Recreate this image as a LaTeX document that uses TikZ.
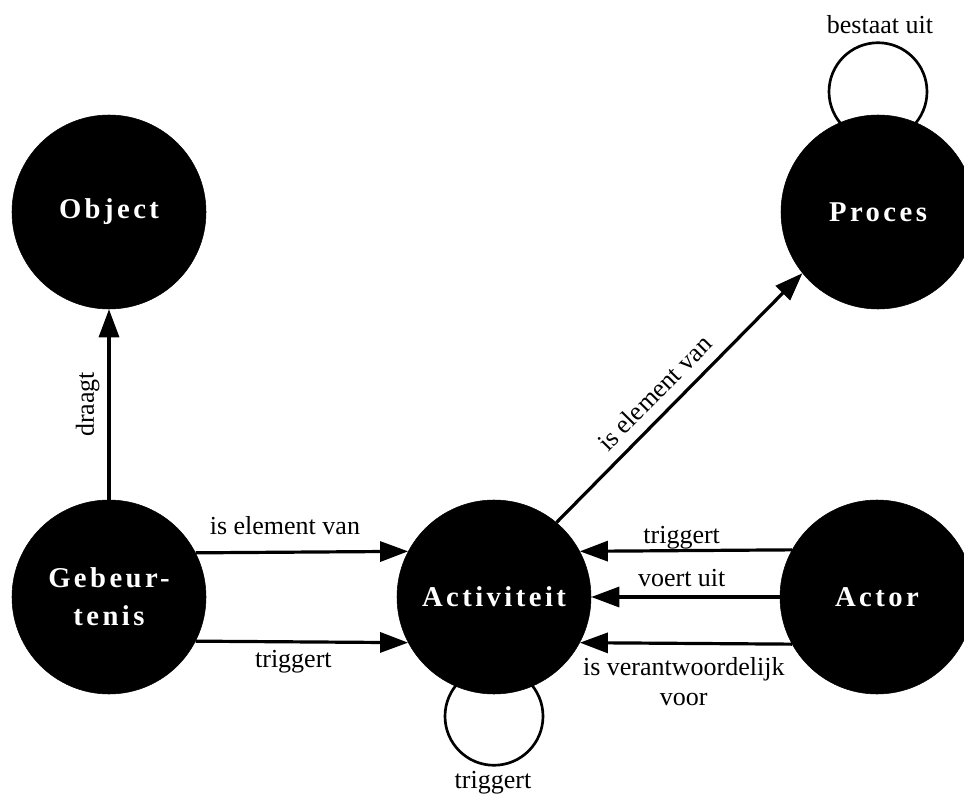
\documentclass[tikz,border=0pt]{standalone}
\usepackage{fontspec}
\setmainfont{Liberation Serif}
\newfontfamily\conceptfont[LetterSpace=12]{Liberation Serif}
\usetikzlibrary{arrows.meta,backgrounds}

\tikzset{
  concept/.style={circle, fill=black, draw=black, minimum size=194*0.75pt, inner sep=0pt,
    text=white, align=center, font=\conceptfont\bfseries\fontsize{21.5}{28.5}\selectfont},
  rel/.style={line width=2.4pt, -{Triangle[length=21pt,width=15pt]}, shorten >=0pt},
  selfloop/.style={line width=2pt},
  lbl/.style={font=\fontsize{19.5}{22.5}\selectfont, align=center, inner sep=0pt}
}

\begin{document}
\begin{tikzpicture}[x=0.75pt,y=-0.75pt]
  \useasboundingbox (0,0) rectangle (964,795);

  % concepts
  \node[concept] (obj)  at (109,212) {Object};
  \node[concept] (proc) at (878,212) {Proces};
  \node[concept] (geb)  at (109,597) {Gebeur-\\tenis};
  \node[concept] (act)  at (494,597) {Activiteit};
  \node[concept] (actor) at (877,597) {Actor};

  % self relations, drawn behind the concepts
  \begin{pgfonlayer}{background}
    \draw[selfloop] ([yshift=17.25pt]proc.north) circle[radius=49*0.75pt];
    \draw[selfloop] ([yshift=-16.5pt]act.south) circle[radius=49*0.75pt];
  \end{pgfonlayer}
  \node[lbl] (lproc) at (880,25) {bestaat uit};
  \node[lbl] (lact) at (493,783) {triggert};

  % relations
  \draw[rel] (geb.north) -- (obj.south)
    node[lbl, midway, sloped, above=6pt] {draagt};
  \draw[rel] (geb.27.6) -- (act.152.4)
    node[lbl, pos=0.42, yshift=20.25pt] {is element van};
  \draw[rel] (geb.-27.6) -- (act.-152.4)
    node[lbl, pos=0.46, yshift=-15pt] {triggert};
  \draw[rel] (act.50.9) -- (proc.219.1)
    node[lbl, pos=0.46, sloped, above=8pt] {is element van};
  \draw[rel] (actor.151.7) -- (act.28.3)
    node[lbl, pos=0.52, yshift=9.75pt] {triggert};
  \draw[rel] (actor.180) -- (act.0)
    node[lbl, pos=0.52, yshift=14.25pt] {voert uit};
  \draw[rel] (actor.-151.7) -- (act.-28.3)
    node[lbl, pos=0.51, yshift=-28.5pt] {is verantwoordelijk\\voor};
\end{tikzpicture}
\end{document}
